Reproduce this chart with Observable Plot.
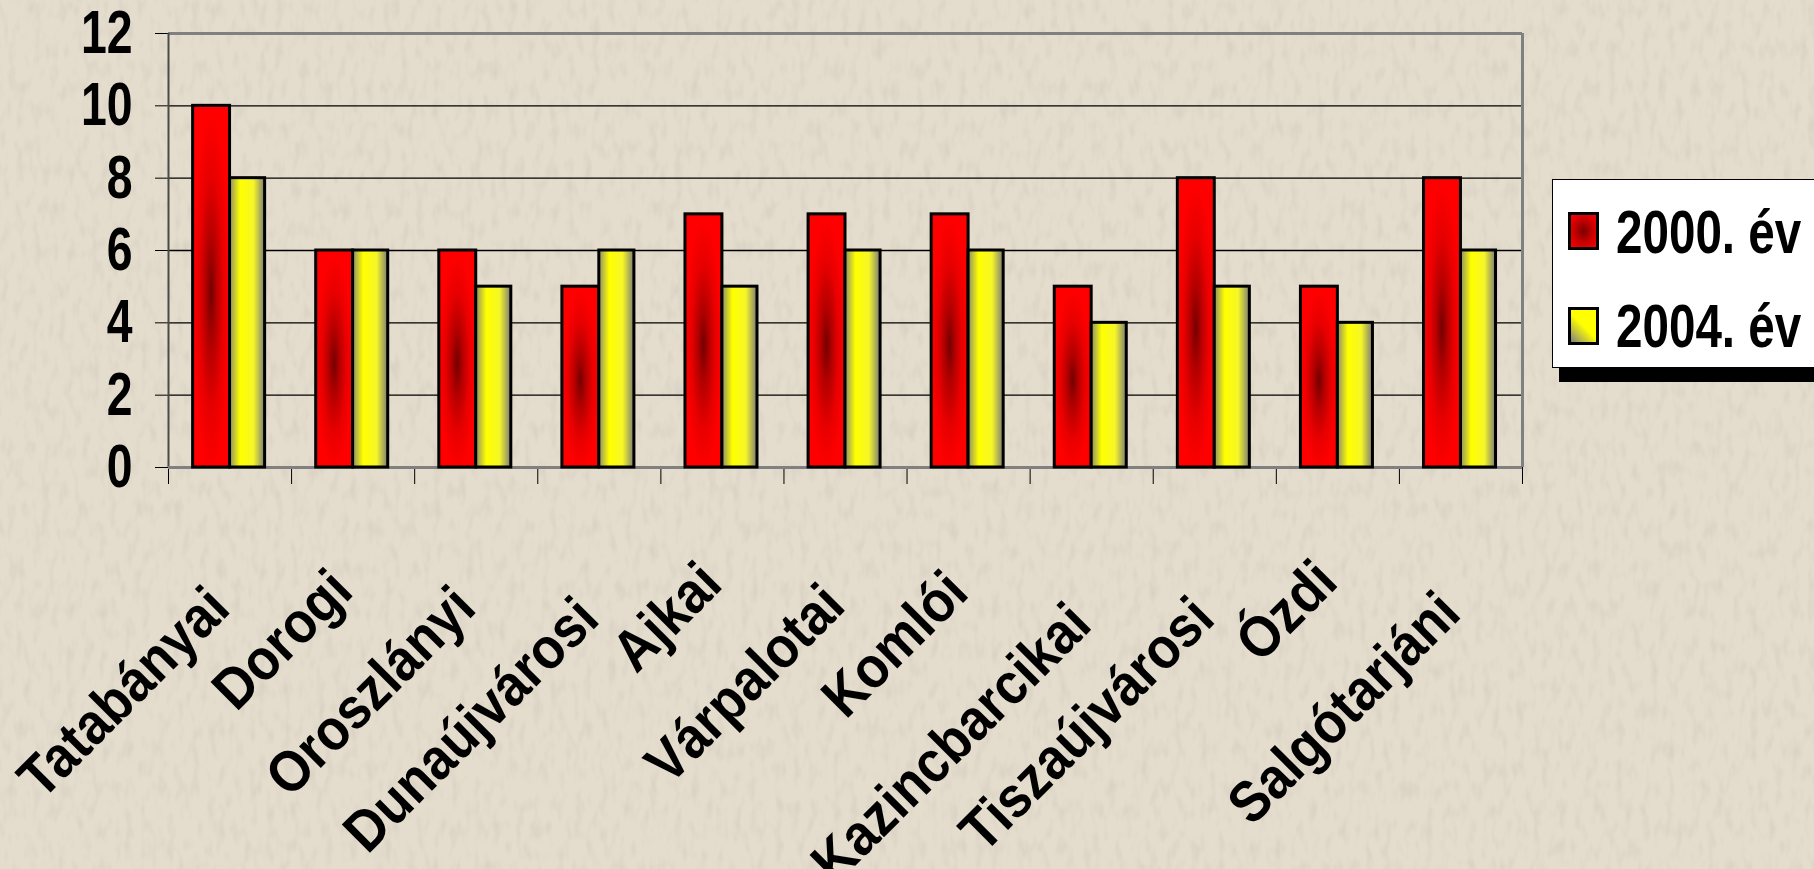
<!DOCTYPE html>
<html>
<head>
<meta charset="utf-8">
<script src="https://cdn.jsdelivr.net/npm/d3@7"></script>
<script src="https://cdn.jsdelivr.net/npm/@observablehq/plot@0.6"></script>
<style>
  html, body { margin: 0; padding: 0; overflow: hidden; background: #e4dccd; }
  #wrap { position: relative; width: 1814px; height: 869px; }
  #bg { position: absolute; left: 0; top: 0; }
  #wrap > svg.chart { position: absolute; left: 0; top: 0; }
  .legend {
    position: absolute; left: 1552px; top: 179px; width: 290px; height: 187px;
    background: #fff; border: 1.5px solid #000; box-shadow: 7px 14px 0 #000;
    font-family: "Liberation Sans", Arial, sans-serif;
    font-weight: bold; font-size: 61px; color: #000;
  }
  .sw { position: absolute; left: 15px; width: 25px; height: 32px; border: 3px solid #000; }
  .lab { position: absolute; left: 63px; line-height: 60px; white-space: nowrap;
         transform: scaleX(0.78); transform-origin: 0 50%; }
</style>
</head>
<body>
<div id="wrap"></div>
<script>
// ---- data ----
const categories = ["Tatabányai","Dorogi","Oroszlányi","Dunaújvárosi","Ajkai","Várpalotai","Komlói","Kazincbarcikai","Tiszaújvárosi","Ózdi","Salgótarjáni"];
const seriesNames = ["2000. év", "2004. év"];
const values2000 = [10, 6, 6, 5, 7, 7, 7, 5, 8, 5, 8];
const values2004 = [8, 6, 5, 6, 5, 6, 6, 4, 5, 4, 6];
const yTicks = [0, 2, 4, 6, 8, 10, 12];

const FONT = '"Liberation Sans", Arial, sans-serif';
const rows = categories.map((c, i) => ({c, i, v2000: values2000[i], v2004: values2004[i]}));

// subtle paper texture behind the chart
const bg = d3.select("#wrap").append("svg").attr("id", "bg").attr("width", 1814).attr("height", 869);
const f = bg.append("defs").append("filter").attr("id", "paper").attr("x", 0).attr("y", 0).attr("width", "100%").attr("height", "100%");
f.append("feTurbulence").attr("type", "fractalNoise").attr("baseFrequency", "0.12 0.05").attr("numOctaves", 2).attr("seed", 7);
f.append("feColorMatrix").attr("type", "matrix")
  .attr("values", "0 0 0 0 0.45  0 0 0 0 0.42  0 0 0 0 0.36  0 0 0 -1.6 0.85");
bg.append("rect").attr("width", 1814).attr("height", 869).attr("fill", "#e4dccd");
bg.append("rect").attr("width", 1814).attr("height", 869).attr("filter", "url(#paper)").attr("opacity", 0.3);

// gradient definitions
const defs = bg.append("defs");
const rg = defs.append("radialGradient").attr("id", "gRed")
  .attr("cx", "50%").attr("cy", "52%").attr("r", "50%");
[[0, "#740000"], [0.3, "#b40000"], [0.65, "#e80000"], [1, "#ff0000"]]
  .forEach(([o, c]) => rg.append("stop").attr("offset", o).attr("stop-color", c));
const yg = defs.append("linearGradient").attr("id", "gYel")
  .attr("x1", 0).attr("x2", 1).attr("y1", 0).attr("y2", 0);
[[0, "#8e8e6c"], [0.3, "#ffff00"], [0.68, "#f6f628"], [1, "#7c7c78"]]
  .forEach(([o, c]) => yg.append("stop").attr("offset", o).attr("stop-color", c));

const chart = Plot.plot({
  width: 1814,
  height: 869,
  marginLeft: 168,
  marginRight: 292,
  marginTop: 33,
  marginBottom: 402,
  style: {background: "transparent", color: "#000", fontSize: "61px", fontWeight: "bold", fontFamily: FONT, overflow: "visible"},
  x: {domain: [0, categories.length], ticks: d3.range(categories.length + 1), tickSize: 17, tickFormat: () => "", label: null},
  y: {domain: [0, 12], ticks: yTicks, tickSize: 13, tickPadding: 23, label: null},
  marks: [
    Plot.ruleY(yTicks.filter(t => t > 0 && t < 12), {stroke: "#000", strokeWidth: 1.3}),
    Plot.ruleY([12], {stroke: "#808080", strokeWidth: 3}),
    Plot.ruleX([categories.length], {stroke: "#808080", strokeWidth: 3}),
    Plot.ruleX([0], {stroke: "#4a4a4a", strokeWidth: 2}),
    Plot.ruleY([0], {stroke: "#808080", strokeWidth: 3}),
    Plot.rectY(rows, {x1: d => d.i + 0.2, x2: d => d.i + 0.5, y1: 0, y2: "v2000", fill: "url(#gRed)", stroke: "#000", strokeWidth: 3}),
    Plot.rectY(rows, {x1: d => d.i + 0.5, x2: d => d.i + 0.785, y1: 0, y2: "v2004", fill: "url(#gYel)", stroke: "#000", strokeWidth: 3}),
    Plot.text(rows, {x: d => d.i + 0.5, y: 0, text: "c", rotate: -45, textAnchor: "end", lineAnchor: "top", dx: -27, dy: 108, fontSize: 58, fontWeight: "bold", fontFamily: FONT, fill: "#000"})
  ]
});
chart.classList.add("chart");
document.getElementById("wrap").appendChild(chart);

// condense text like the narrow bold face of the original;
// longer rotated labels sit a little lower, as in the original layout
d3.select(chart).selectAll("text").each(function() {
  const s = this.textContent.trim();
  if (!s) return;
  const numeric = /^\d+$/.test(s);
  const k = numeric ? 0.76 : 0.9;
  const w = this.getComputedTextLength() * k;
  this.setAttribute("textLength", w.toFixed(1));
  this.setAttribute("lengthAdjust", "spacingAndGlyphs");
  if (!numeric) {
    const off = 0.17 * (w - 232);
    const t = this.getAttribute("transform") || "";
    this.setAttribute("transform", `translate(0,${off.toFixed(1)}) ${t}`);
  }
});

// legend
const legend = d3.select("#wrap").append("div").attr("class", "legend");
const swStyles = [
  "radial-gradient(ellipse at center, #780000 0%, #c00000 45%, #ff0000 100%)",
  "linear-gradient(45deg, #808080 0%, #ffff00 50%, #ffff00 100%)"
];
const swTops = [32, 127];
const labTops = [22, 116];
seriesNames.forEach((s, k) => {
  legend.append("div").attr("class", "sw").style("top", swTops[k] + "px").style("background", swStyles[k]);
  legend.append("div").attr("class", "lab").style("top", labTops[k] + "px").text(s);
});
</script>
</body>
</html>
